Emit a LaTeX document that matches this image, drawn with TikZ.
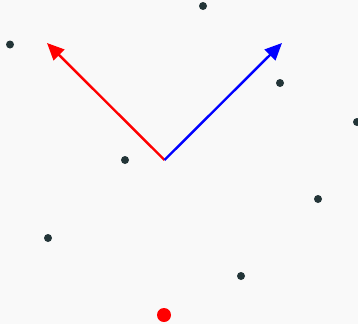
\documentclass[tikz,border=0pt]{standalone}
\usepackage{tikz}
\usetikzlibrary{arrows.meta}
\definecolor{bgcol}{HTML}{F9F9F9}
\definecolor{ptcol}{HTML}{233538}

\begin{document}
\begin{tikzpicture}[
    x=1pt, y=-1pt,
    pt/.style={circle, fill=ptcol, inner sep=0pt, minimum size=8pt},
    goal/.style={circle, fill=red, inner sep=0pt, minimum size=14pt},
    vec/.style={line width=2.4pt, -{Triangle[length=17pt, width=15pt]}}
]
\fill[bgcol] (0,0) rectangle (358,324);
\useasboundingbox (0,0) rectangle (358,324);

% scattered points
\node[pt] (p1) at (203,6) {};
\node[pt] (p2) at (10,44.5) {};
\node[pt] (p3) at (280,83) {};
\node[pt] (p4) at (357,122) {};
\node[pt] (p5) at (125,160) {};
\node[pt] (p6) at (318,199) {};
\node[pt] (p7) at (48,238) {};
\node[pt] (p8) at (241,276) {};
\node[goal] (g) at (164,315) {};

% vectors
\coordinate (o) at (164.5,160);
\coordinate (rtip) at (47,43);
\coordinate (btip) at (282,43);
\draw[vec, red] (o) -- (rtip);
\draw[vec, blue] (o) -- (btip);
\end{tikzpicture}
\end{document}
